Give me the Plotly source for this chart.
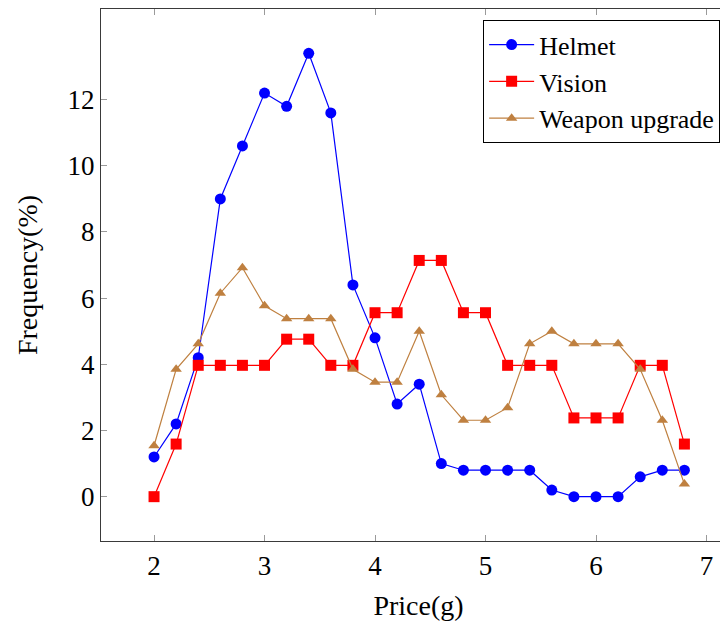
import plotly.graph_objects as go

price = [2.0, 2.2, 2.4, 2.6, 2.8, 3.0, 3.2, 3.4, 3.6, 3.8, 4.0, 4.2, 4.4,
         4.6, 4.8, 5.0, 5.2, 5.4, 5.6, 5.8, 6.0, 6.2, 6.4, 6.6, 6.8]

helmet = [1.2, 2.2, 4.2, 9.0, 10.6, 12.2, 11.8, 13.4, 11.6, 6.4, 4.8, 2.8, 3.4,
          1.0, 0.8, 0.8, 0.8, 0.8, 0.2, 0.0, 0.0, 0.0, 0.6, 0.8, 0.8]

vision = [0.0, 1.59, 3.97, 3.97, 3.97, 3.97, 4.76, 4.76, 3.97, 3.97, 5.56, 5.56, 7.14,
          7.14, 5.56, 5.56, 3.97, 3.97, 3.97, 2.38, 2.38, 2.38, 3.97, 3.97, 1.59]

weapon = [1.54, 3.85, 4.62, 6.15, 6.92, 5.77, 5.38, 5.38, 5.38, 3.85, 3.46, 3.46, 5.0,
          3.08, 2.31, 2.31, 2.69, 4.62, 5.0, 4.62, 4.62, 4.62, 3.85, 2.31, 0.38]

x_ticks = [2, 3, 4, 5, 6, 7]
y_ticks = [0, 2, 4, 6, 8, 10, 12]

FONT = "Liberation Serif"

fig = go.Figure()
fig.add_trace(go.Scatter(x=price, y=helmet, name="Helmet", mode="lines+markers",
                         line=dict(color="rgb(0,0,255)", width=1.2),
                         marker=dict(symbol="circle", size=11, color="rgb(0,0,255)")))
fig.add_trace(go.Scatter(x=price, y=vision, name="Vision", mode="lines+markers",
                         line=dict(color="rgb(255,0,0)", width=1.2),
                         marker=dict(symbol="square", size=11, color="rgb(255,0,0)")))
fig.add_trace(go.Scatter(x=price, y=weapon, name="Weapon upgrade", mode="lines+markers",
                         line=dict(color="rgb(191,128,64)", width=1.2),
                         marker=dict(symbol="triangle-up", size=10, color="rgb(191,128,64)")))

axis_common = dict(
    showgrid=False, zeroline=False, showline=True, linecolor="#3a3a3a", linewidth=1.3,
    mirror="allticks", ticks="inside", ticklen=6, tickcolor="#9a9a9a", tickwidth=1,
    tickfont=dict(family=FONT, size=27, color="black"), automargin=False,
)

fig.update_layout(
    width=728, height=622,
    margin=dict(l=93, r=0, t=1, b=89, autoexpand=False),
    paper_bgcolor="white", plot_bgcolor="white",
    font=dict(family=FONT, color="black"),
    xaxis=dict(range=[1.52, 7.267], tickvals=x_ticks, ticktext=[str(v) for v in x_ticks],
               title=dict(text="Price(g)", font=dict(family=FONT, size=28), standoff=15),
               **axis_common),
    yaxis=dict(range=[-1.34, 14.74], tickvals=y_ticks, ticktext=[str(v) for v in y_ticks],
               title=dict(text="Frequency(%)", font=dict(family=FONT, size=28), standoff=21),
               **axis_common),
    legend=dict(x=0.975, y=0.979, xanchor="right", yanchor="top",
                bordercolor="black", borderwidth=1, bgcolor="white",
                font=dict(family=FONT, size=26), itemwidth=45, tracegroupgap=0),
    showlegend=True,
)

fig.write_html("out.html")
